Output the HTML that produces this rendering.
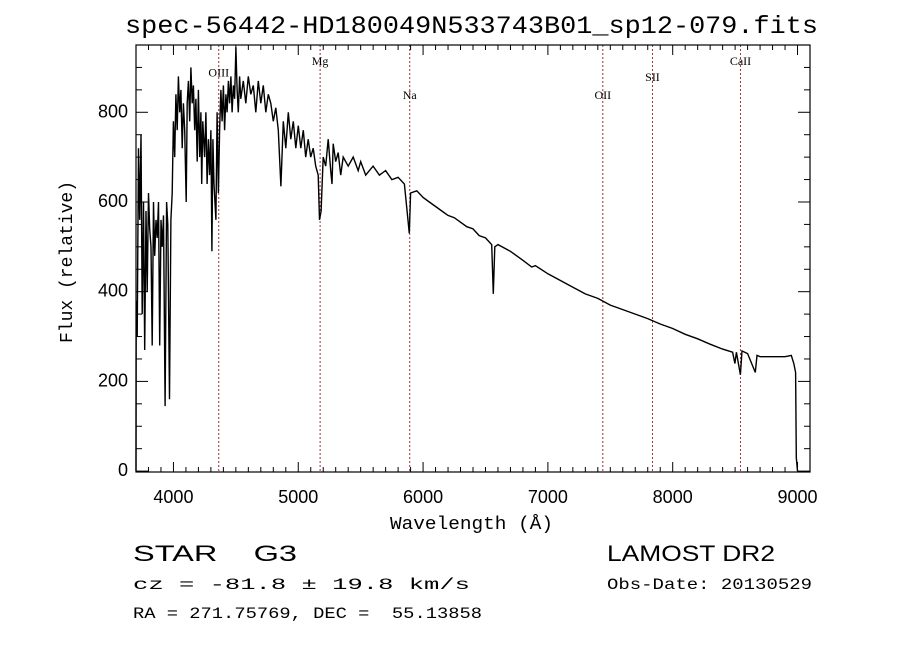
<!DOCTYPE html>
<html><head><meta charset="utf-8"><style>
body{margin:0;background:#fff;width:900px;height:649px;overflow:hidden}
svg text{font-family:"Liberation Mono","DejaVu Sans Mono",monospace;fill:#000;white-space:pre}
</style></head><body>
<svg id="chart" width="900" height="649">
<text x="125" y="33" font-size="25" textLength="693" lengthAdjust="spacingAndGlyphs">spec-56442-HD180049N533743B01_sp12-079.fits</text>
<g id="plot"></g>
<text x="390" y="529" font-size="18" textLength="163" lengthAdjust="spacingAndGlyphs">Wavelength (Å)</text>
<text transform="translate(72,262) rotate(-90)" text-anchor="middle" font-size="18">Flux (relative)</text>
<text x="133" y="561" font-size="22" textLength="164" lengthAdjust="spacingAndGlyphs" style="font-family:'Liberation Sans',sans-serif">STAR    G3</text>
<text x="607" y="561" font-size="22" textLength="168" lengthAdjust="spacingAndGlyphs" style="font-family:'Liberation Sans',sans-serif">LAMOST DR2</text>
<text x="133" y="589" font-size="16" textLength="337" lengthAdjust="spacingAndGlyphs">cz = -81.8 ± 19.8 km/s</text>
<text x="607" y="589" font-size="16" textLength="205" lengthAdjust="spacingAndGlyphs">Obs-Date: 20130529</text>
<text x="133" y="618" font-size="16" textLength="349" lengthAdjust="spacingAndGlyphs">RA = 271.75769, DEC =  55.13858</text>
</svg>
<script>
const waves=[3700,3702,3710,3720,3730,3740,3750,3760,3770,3780,3790,3800,3810,3820,3830,3840,3850,3860,3870,3880,3890,3900,3910,3920,3933,3945,3955,3968,3980,3990,4000,4010,4020,4030,4040,4050,4060,4070,4080,4090,4102,4110,4120,4130,4140,4150,4160,4170,4180,4190,4200,4210,4220,4226,4235,4250,4260,4270,4280,4290,4300,4308,4316,4325,4340,4350,4360,4370,4380,4390,4400,4410,4420,4430,4440,4450,4460,4470,4480,4490,4500,4510,4520,4530,4540,4560,4580,4600,4620,4640,4660,4680,4700,4720,4740,4760,4780,4800,4820,4840,4861,4880,4900,4920,4940,4960,4980,5000,5020,5040,5060,5080,5100,5120,5140,5160,5170,5183,5200,5220,5240,5260,5270,5280,5300,5320,5340,5360,5400,5440,5480,5500,5540,5600,5650,5700,5750,5800,5850,5890,5900,5950,6000,6050,6100,6150,6200,6250,6300,6350,6400,6450,6500,6550,6563,6575,6600,6700,6800,6870,6900,7000,7100,7200,7300,7400,7500,7600,7700,7800,7900,8000,8100,8200,8300,8400,8480,8498,8510,8542,8555,8600,8662,8675,8700,8800,8900,8950,8970,8985,8990,9000];
const flux=[0,380,300,720,560,750,350,600,270,580,400,620,540,500,280,600,480,560,520,600,280,560,500,570,145,600,550,160,560,620,780,700,840,760,880,800,850,720,820,760,600,820,870,780,900,820,860,760,830,690,850,700,800,640,780,700,800,640,740,660,760,490,740,640,560,800,620,760,850,780,860,760,840,800,870,820,880,800,860,830,945,850,800,880,830,870,820,880,840,860,800,870,820,860,800,840,820,780,810,760,635,780,720,800,740,780,720,770,720,760,700,740,700,720,680,660,560,580,700,680,740,670,640,730,690,710,660,700,680,700,670,690,660,680,660,670,650,655,640,530,620,625,610,600,590,580,570,565,555,545,540,525,520,505,395,500,505,490,470,455,458,440,425,410,395,385,370,360,350,340,328,318,305,295,283,272,265,240,265,215,268,262,220,258,255,255,255,258,240,220,30,0];
const xTicks=[4000,5000,6000,7000,8000,9000];
const yTicks=[0,200,400,600,800];
const lineNames=["OIII","Mg","Na","OII","SII","CaII"];
const lineWaves=[4363,5175,5893,7440,7838,8543];
const lineLabelY=[880,905,830,830,870,905];
const X0=136,X1=810,Y0=45,Y1=472,XMIN=3700,XMAX=9100,YMIN=-2,YMAX=950;
const sx=w=>X0+(w-XMIN)/(XMAX-XMIN)*(X1-X0);
const sy=f=>Y1-(f-YMIN)/(YMAX-YMIN)*(Y1-Y0);
const NS="http://www.w3.org/2000/svg";
const g=document.getElementById('plot');
function mk(t,a){const e=document.createElementNS(NS,t);for(const k in a)e.setAttribute(k,a[k]);g.appendChild(e);return e;}
lineWaves.forEach((w,i)=>{
 const l=mk('line',{x1:sx(w),x2:sx(w),y1:Y0,y2:Y1,stroke:'#a03030','stroke-width':1,'stroke-dasharray':'2,2'});
 
 
 const t=mk('text',{x:sx(w),y:sy(lineLabelY[i]),'text-anchor':'middle','font-size':12,style:"font-family:'Liberation Serif',serif"});
 t.textContent=lineNames[i];
 
 
});
const d=waves.map((w,i)=>(i?'L':'M')+sx(w).toFixed(1)+','+Math.max(Y0,sy(flux[i])).toFixed(1)).join(' ');
const p=mk('path',{d:d,fill:'none',stroke:'#000','stroke-width':1.4});


const fr=mk('rect',{x:X0,y:Y0,width:X1-X0,height:Y1-Y0,fill:'none',stroke:'#000','stroke-width':1.2});


for(let w=3800;w<=9100;w+=100){const maj=w%1000===0;const L=maj?10:5;
 mk('line',{x1:sx(w),x2:sx(w),y1:Y1,y2:Y1-L,stroke:'#000'});mk('line',{x1:sx(w),x2:sx(w),y1:Y0,y2:Y0+L,stroke:'#000'});}
xTicks.forEach(w=>{const t=mk('text',{x:sx(w),y:Y1+31,'text-anchor':'middle','font-size':18,style:"font-family:'Liberation Sans',sans-serif"});t.textContent=w;
 
 });
for(let f=0;f<=940;f+=50){const maj=f%200===0;const L=maj?12:6;
 mk('line',{x1:X0,x2:X0+L,y1:sy(f),y2:sy(f),stroke:'#000'});mk('line',{x1:X1,x2:X1-L,y1:sy(f),y2:sy(f),stroke:'#000'});}
yTicks.forEach(f=>{const t=mk('text',{x:X0-8,y:sy(f)+5,'text-anchor':'end','font-size':18,style:"font-family:'Liberation Sans',sans-serif"});t.textContent=f;
 
 });
</script>
</body></html>
